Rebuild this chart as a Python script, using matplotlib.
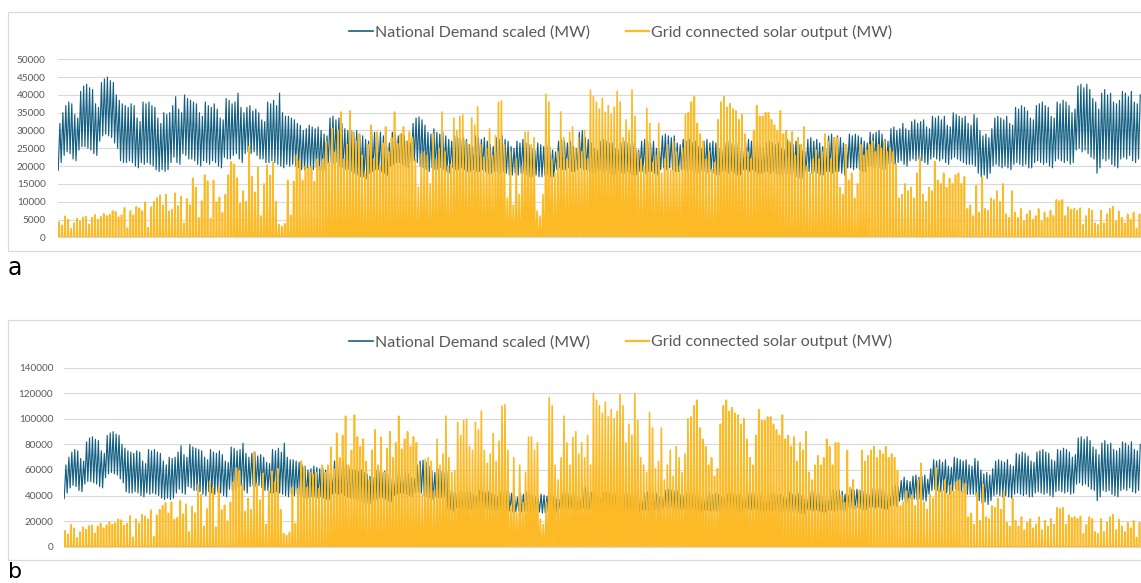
import numpy as np
import matplotlib
matplotlib.use("Agg")
import matplotlib.pyplot as plt
from matplotlib.patches import Rectangle
from matplotlib.lines import Line2D

# ---------------- data (thousands of MW, one value per day) ----------------
demand_peak_a_k = [
    32.0, 35.0, 37.0, 38.0, 37.5, 34.5, 33.5,
    41.0, 42.5, 43.0, 42.0, 41.5, 37.5, 36.5,
    43.5, 44.5, 45.0, 44.0, 43.5, 40.0, 38.5,
    37.5, 37.0, 36.5, 37.5, 37.0, 33.5, 32.5,
    38.0, 37.5, 38.0, 37.0, 36.5, 33.5, 32.0,
    35.0, 34.5, 35.0, 37.0, 39.5, 36.0, 35.0,
    40.0, 39.0, 38.5, 38.0, 37.5, 35.0, 34.0,
    38.0, 37.0, 36.5, 37.5, 36.0, 33.5, 33.0,
    39.0, 38.5, 37.5, 38.0, 40.5, 36.5, 35.0,
    36.5, 37.0, 35.5, 36.0, 35.0, 33.0, 32.5,
    38.0, 37.5, 38.5, 37.0, 40.5, 35.0, 34.0,
    34.0, 33.5, 33.0, 32.0, 31.5, 30.0, 30.5,
    31.5, 31.0, 30.5, 31.0, 30.0, 29.0, 28.5,
    33.5, 34.0, 33.0, 33.5, 32.0, 30.5, 30.0,
    30.0, 29.5, 30.0, 29.0, 28.5, 27.5, 27.0,
    30.0, 29.5, 29.0, 29.5, 28.5, 27.0, 26.5,
    29.5, 29.0, 28.5, 29.0, 28.5, 27.0, 26.5,
    32.0, 33.5, 33.8, 33.0, 31.5, 29.5, 29.0,
    30.5, 29.5, 29.0, 29.5, 28.5, 27.5, 27.0,
    28.5, 28.0, 27.5, 28.0, 27.5, 26.0, 25.5,
    28.5, 28.0, 27.5, 28.0, 27.0, 26.0, 25.5,
    28.0, 27.5, 28.5, 27.5, 27.0, 25.5, 25.0,
    27.0, 26.5, 27.5, 26.5, 26.0, 25.0, 24.5,
    26.5, 26.0, 25.5, 26.0, 25.5, 24.5, 24.0,
    27.0, 27.5, 27.0, 26.5, 27.0, 25.5, 25.0,
    29.5, 30.0, 28.0, 27.5, 26.5, 25.0, 24.5,
    27.0, 27.5, 27.0, 26.5, 26.5, 25.0, 24.5,
    26.5, 27.0, 26.5, 26.0, 26.5, 25.0, 24.5,
    27.0, 27.5, 27.0, 26.5, 27.0, 25.0, 24.5,
    28.5, 29.0, 28.5, 28.0, 28.5, 26.5, 26.0,
    27.5, 27.0, 27.5, 26.5, 27.0, 25.5, 25.0,
    27.0, 27.5, 26.5, 27.0, 26.5, 25.0, 24.5,
    26.5, 27.0, 26.5, 26.0, 26.5, 25.0, 24.5,
    27.0, 27.5, 27.0, 26.5, 27.0, 25.5, 25.0,
    26.5, 27.0, 26.5, 26.0, 26.5, 25.0, 24.5,
    27.5, 26.5, 26.0, 27.0, 26.0, 24.5, 24.0,
    27.5, 28.0, 27.0, 27.5, 26.5, 25.5, 25.0,
    28.5, 29.0, 28.0, 28.5, 28.0, 26.5, 26.0,
    29.0, 28.5, 29.0, 28.5, 28.0, 27.0, 26.5,
    29.5, 29.0, 29.5, 30.0, 29.0, 27.5, 27.0,
    30.5, 31.0, 30.0, 30.5, 32.0, 30.5, 30.0,
    32.5, 33.0, 32.0, 32.5, 33.0, 31.0, 30.5,
    34.0, 33.5, 34.0, 33.0, 34.0, 31.5, 31.0,
    35.0, 34.5, 34.0, 33.5, 34.0, 32.0, 31.5,
    34.5, 33.5, 30.0, 28.5, 29.0, 28.0, 30.5,
    33.5, 34.0, 33.5, 33.0, 34.0, 32.0, 31.5,
    36.5, 36.0, 37.0, 36.5, 35.5, 33.5, 33.0,
    37.0, 37.5, 38.0, 37.0, 36.5, 34.0, 33.5,
    38.0, 37.5, 38.5, 38.0, 37.0, 35.0, 36.0,
    42.5, 43.0, 42.0, 43.0, 41.5, 39.0, 38.0,
    36.0, 40.5, 41.5, 40.0, 40.5, 38.0, 37.5,
    38.5, 41.0, 40.5, 39.5, 41.0, 38.0, 37.5,
    40.0,
]

demand_trough_a_k = [
    18.8, 21.0, 23.0, 24.0, 23.5, 22.0, 21.5,
    24.5, 25.5, 25.5, 25.0, 24.5, 23.5, 23.0,
    27.0, 28.5, 29.0, 28.5, 28.0, 26.5, 25.0,
    21.5, 21.0, 21.0, 21.5, 21.0, 20.0, 19.5,
    21.0, 20.5, 21.0, 20.5, 20.0, 19.0, 18.5,
    19.0, 18.5, 19.0, 21.0, 22.5, 21.0, 20.5,
    23.5, 23.0, 22.0, 22.0, 21.5, 20.5, 20.0,
    21.5, 21.0, 20.5, 21.5, 21.0, 20.0, 19.5,
    22.5, 22.0, 22.0, 23.0, 23.5, 22.0, 21.0,
    23.5, 24.0, 23.5, 24.0, 23.0, 22.0, 22.0,
    21.0, 21.0, 21.5, 21.0, 20.5, 20.0, 19.5,
    20.5, 20.0, 20.5, 20.0, 19.5, 19.0, 19.0,
    19.5, 19.5, 19.0, 19.5, 19.0, 18.5, 18.5,
    20.5, 21.0, 20.5, 21.0, 20.0, 19.5, 19.0,
    19.0, 18.5, 18.0, 17.5, 17.0, 17.0, 16.5,
    18.0, 18.5, 19.0, 19.0, 18.5, 18.0, 17.5,
    20.0, 20.5, 21.0, 21.0, 20.5, 20.0, 19.5,
    21.0, 21.5, 21.0, 20.0, 19.5, 19.0, 18.5,
    19.5, 19.0, 19.0, 19.5, 19.0, 18.5, 18.0,
    19.5, 19.0, 19.0, 19.5, 19.0, 18.5, 18.5,
    19.0, 18.5, 18.5, 19.0, 18.5, 18.0, 18.0,
    18.5, 18.5, 18.0, 18.5, 18.0, 17.5, 17.5,
    18.0, 17.5, 18.0, 18.0, 17.5, 17.0, 17.0,
    17.5, 17.0, 17.0, 17.5, 17.5, 17.0, 17.0,
    19.0, 19.5, 19.0, 19.0, 19.5, 18.5, 18.5,
    19.0, 19.5, 19.0, 19.0, 18.5, 18.0, 18.0,
    18.5, 18.5, 18.0, 18.5, 18.0, 17.5, 17.5,
    18.5, 18.0, 18.0, 18.5, 18.0, 17.5, 17.5,
    18.5, 18.5, 18.0, 18.5, 18.5, 18.0, 17.5,
    19.0, 19.5, 19.0, 19.5, 19.0, 18.5, 18.5,
    19.0, 19.0, 18.5, 19.0, 18.5, 18.0, 18.0,
    18.5, 18.5, 18.0, 18.5, 18.0, 17.5, 17.5,
    18.5, 18.5, 18.0, 18.5, 18.0, 17.5, 17.5,
    19.0, 19.0, 18.5, 19.0, 18.5, 18.0, 18.0,
    18.5, 18.5, 18.0, 18.5, 18.0, 17.5, 17.5,
    18.0, 17.5, 17.5, 18.0, 17.0, 16.5, 16.5,
    18.5, 18.5, 18.0, 18.5, 18.0, 17.5, 17.5,
    18.5, 18.5, 18.0, 18.5, 18.5, 18.0, 17.5,
    19.5, 19.5, 19.0, 19.5, 19.0, 18.5, 18.5,
    20.0, 20.0, 19.5, 20.0, 19.5, 19.0, 19.0,
    20.5, 21.0, 20.5, 21.0, 21.5, 20.5, 20.0,
    21.5, 22.0, 21.5, 22.0, 21.5, 21.0, 20.5,
    22.0, 22.5, 22.0, 21.5, 22.0, 21.0, 20.5,
    22.0, 22.5, 22.0, 21.5, 21.0, 20.5, 20.5,
    20.5, 20.0, 18.0, 17.0, 17.5, 16.5, 18.0,
    20.0, 20.5, 20.0, 19.5, 20.0, 19.5, 19.0,
    20.5, 21.0, 20.5, 20.0, 20.5, 19.5, 19.5,
    21.0, 21.5, 21.0, 20.5, 21.0, 20.0, 19.5,
    21.5, 22.0, 21.5, 21.0, 21.5, 20.5, 21.0,
    24.5, 25.0, 24.0, 24.5, 23.5, 22.5, 22.0,
    18.0, 19.5, 22.0, 21.5, 22.0, 20.5, 20.0,
    19.5, 22.0, 22.5, 22.0, 23.0, 21.5, 21.0,
    22.0,
]

solar_peak_a_k = [
    4.3, 3.4, 5.9, 5.0, 2.4, 4.0, 5.3,
    4.6, 5.6, 5.8, 3.6, 5.5, 6.3, 5.0,
    5.8, 6.6, 6.0, 6.4, 7.4, 7.2, 5.7,
    6.2, 8.3, 2.6, 7.4, 6.2, 8.6, 8.2,
    7.4, 9.9, 2.7, 8.5, 10.0, 11.0, 11.8,
    9.0, 12.0, 7.3, 7.8, 12.4, 8.8, 11.5,
    4.0, 10.8, 9.1, 16.6, 14.0, 5.5, 10.2,
    17.5, 15.8, 5.3, 16.0, 9.9, 11.2, 6.9,
    12.0, 17.5, 21.2, 20.5, 16.6, 9.5, 13.0,
    10.0, 25.5, 17.0, 12.6, 19.7, 6.0, 15.0,
    20.3, 17.4, 21.0, 10.0, 3.6, 3.0, 3.8,
    16.0, 6.2, 15.7, 23.1, 21.5, 16.0, 20.0,
    19.5, 20.0, 15.7, 22.0, 20.0, 22.0, 26.8,
    21.0, 30.6, 24.0, 30.0, 35.2, 22.0, 26.0,
    35.5, 29.6, 27.0, 29.0, 23.0, 18.0, 26.0,
    31.5, 22.0, 29.5, 20.0, 26.5, 31.0, 24.0,
    28.0, 35.2, 26.3, 29.0, 31.0, 27.0, 29.6,
    28.0, 22.0, 14.1, 23.5, 24.0, 23.0, 15.0,
    29.0, 22.0, 25.0, 35.2, 24.0, 20.0, 20.5,
    33.5, 30.0, 34.0, 34.4, 27.0, 26.0, 33.5,
    31.5, 36.6, 26.0, 22.5, 25.0, 30.5, 23.0,
    28.5, 37.9, 38.3, 26.0, 11.0, 24.0, 9.0,
    22.0, 12.0, 20.0, 29.5, 29.6, 26.0, 28.0,
    7.4, 6.0, 12.0, 40.2, 38.0, 22.0, 18.0,
    24.0, 35.2, 28.0, 22.0, 29.5, 31.0, 25.0,
    28.0, 24.0, 30.0, 22.0, 41.3, 39.5, 38.0,
    36.0, 39.0, 35.0, 37.0, 34.5, 36.5, 41.0,
    38.0, 28.0, 33.0, 30.0, 41.3, 34.0, 24.0,
    22.0, 20.0, 36.2, 32.0, 21.0, 23.0, 32.0,
    18.0, 22.0, 26.0, 19.0, 27.0, 24.0, 20.0,
    25.0, 34.5, 35.0, 38.0, 39.5, 32.0, 29.0,
    27.0, 22.0, 24.0, 19.0, 21.0, 33.0, 38.0,
    39.5, 36.5, 37.5, 36.0, 35.5, 33.0, 34.5,
    29.0, 24.0, 22.0, 30.0, 37.0, 34.0, 34.0,
    35.0, 35.0, 33.0, 31.5, 30.0, 35.5, 29.0,
    30.0, 27.0, 29.6, 23.0, 28.0, 26.0, 31.0,
    20.0, 18.0, 22.0, 24.5, 22.0, 24.0, 29.0,
    27.0, 22.0, 28.0, 28.0, 14.0, 12.0, 26.0,
    16.0, 18.0, 11.0, 15.0, 26.0, 23.0, 24.5,
    26.0, 27.0, 24.0, 26.0, 25.0, 27.0, 24.0,
    25.0, 24.0, 20.5, 11.0, 12.0, 15.0, 13.0,
    14.0, 11.0, 18.0, 22.5, 12.0, 10.0, 14.0,
    13.0, 21.3, 16.0, 15.0, 18.0, 14.0, 16.5,
    15.0, 17.5, 18.0, 15.0, 17.0, 8.0, 9.0,
    6.0, 14.5, 7.0, 16.8, 8.0, 7.5, 11.0,
    10.5, 13.0, 10.0, 15.0, 6.5, 5.5, 13.0,
    7.0, 5.5, 8.0, 4.5, 6.5, 7.5, 5.0,
    6.0, 8.0, 4.5, 7.0, 5.5, 7.5, 6.0,
    10.5, 10.2, 10.5, 6.0, 8.5, 7.8, 8.0,
    7.5, 8.2, 3.5, 6.0, 8.0, 7.5, 4.0,
    3.5, 7.5, 4.0, 6.5, 8.0, 8.6, 4.5,
    7.3, 5.5, 4.0, 6.5, 5.0, 7.0, 2.5,
    6.5,
]

# panel b: demand scale factor (from a given day onwards) and solar scale factor
b_demand_scale_from_day = [0, 130, 283, 293]
b_demand_scale = [2.0, 1.55, 1.7, 2.0]
b_solar_scale = 2.9

# length of the solar day (fraction of 24 h) for each month, used for spike width
month_days = [31, 28, 31, 30, 31, 30, 31, 31, 30, 31, 30, 31]
solar_day_fraction = [0.28, 0.34, 0.42, 0.50, 0.57, 0.61, 0.60, 0.53, 0.46, 0.38, 0.31, 0.26]

legend_labels = ["National Demand scaled (MW)", "Grid connected solar output (MW)"]
a_ticks = list(range(0, 50001, 5000))
b_ticks = list(range(0, 140001, 20000))

# ---------------- build series ----------------
days = np.arange(len(solar_peak_a_k))
dpk = np.array(demand_peak_a_k) * 1000
dtr = np.array(demand_trough_a_k) * 1000
spk = np.array(solar_peak_a_k) * 1000

month_idx = np.searchsorted(np.cumsum(month_days), days, side="right")
wfrac = np.array(solar_day_fraction)[month_idx]


def demand_xy(tr, pk):
    x = np.column_stack([days + 0.17, days + 0.75]).ravel()
    y = np.column_stack([tr, pk]).ravel()
    return x, y


def solar_xy(pk):
    x = np.column_stack([days + 0.5 - wfrac / 2, days + 0.5, days + 0.5 + wfrac / 2]).ravel()
    y = np.column_stack([np.zeros_like(pk), pk, np.zeros_like(pk)]).ravel()
    return x, y


bfac = np.array(b_demand_scale)[np.searchsorted(b_demand_scale_from_day, days, side="right") - 1]

# ---------------- figure ----------------
W, H = 1141, 583
fig = plt.figure(figsize=(W / 100, H / 100), dpi=100)
FONT = "Lato"
TXT = "#595959"
DEM_C = "#156082"
SOL_C = "#FBBA26"
GRID_C = "#D9D9D9"


def add_axes_px(left, top, right, bottom):
    return fig.add_axes([left / W, 1 - bottom / H, (right - left) / W, (bottom - top) / H])


def frame(top, bottom):
    fig.patches.append(Rectangle((8 / W, 1 - bottom / H), (1160 - 8) / W, (bottom - top) / H,
                                 transform=fig.transFigure, fill=False,
                                 edgecolor=GRID_C, lw=0.9))


def panel(ax, tr, pk, spk_vals, ticks, pad):
    x, y = demand_xy(tr, pk)
    ax.plot(x, y, color=DEM_C, lw=0.85, zorder=2)
    xs, ys = solar_xy(spk_vals)
    ax.plot(xs, ys, color=SOL_C, lw=1.2, zorder=3)
    ax.set_xlim(0.1, 365)
    ax.set_ylim(0, ticks[-1])
    ax.set_yticks(ticks)
    ax.set_yticklabels([str(t) for t in ticks], fontfamily=FONT)
    ax.set_xticks([])
    ax.grid(axis="y", color=GRID_C, lw=0.8, zorder=0)
    ax.set_axisbelow(True)
    for s in ["top", "right", "left"]:
        ax.spines[s].set_visible(False)
    ax.spines["bottom"].set_color(GRID_C)
    ax.spines["bottom"].set_linewidth(0.8)
    ax.tick_params(axis="y", length=0, labelsize=7.2, colors=TXT, pad=pad)
    ax.patch.set_alpha(0)


def legend(y_px):
    handles = [Line2D([], [], color=DEM_C, lw=1.2), Line2D([], [], color=SOL_C, lw=1.6)]
    fig.legend(handles, legend_labels, loc="center", bbox_to_anchor=(621 / W, 1 - y_px / H),
               ncol=2, frameon=False, handlelength=1.45, handletextpad=0.12,
               columnspacing=2.3, prop={"family": FONT, "size": 11.5}, labelcolor=TXT)


# panel a
frame(12, 251)
ax_a = add_axes_px(58, 59.3, 1141, 237.3)
panel(ax_a, dtr, dpk, spk, a_ticks, 8.8)
legend(32)
fig.text(8 / W, 1 - 268 / H, "a", fontsize=17, va="center", ha="left", fontfamily="DejaVu Sans")

# panel b
frame(320, 559.5)
ax_b = add_axes_px(64, 367.7, 1141, 546.7)
panel(ax_b, dtr * bfac, dpk * bfac, spk * b_solar_scale, b_ticks, 7.7)
legend(341.7)
fig.text(8 / W, 1 - 582 / H, "b", fontsize=16, va="bottom", ha="left", fontfamily="DejaVu Sans")

fig.savefig("out.png", dpi=100)
